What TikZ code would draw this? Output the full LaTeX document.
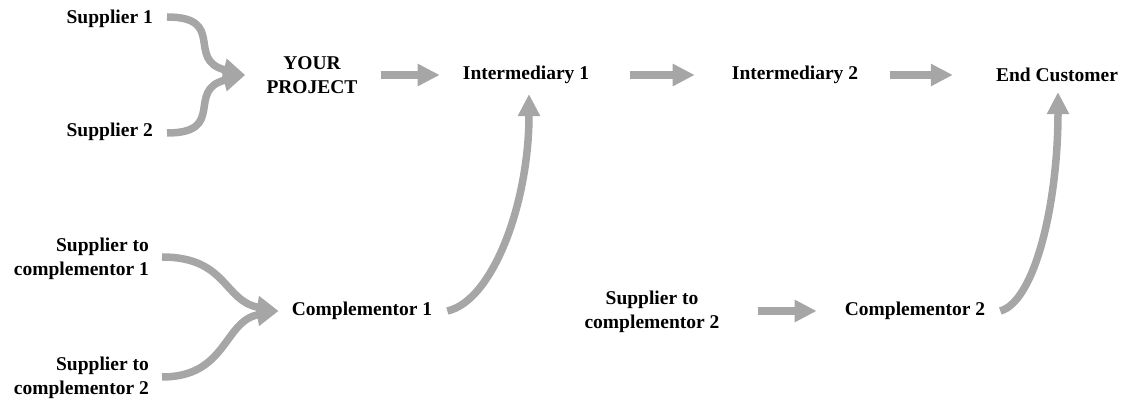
\documentclass[tikz,border=0pt]{standalone}
\usepackage{fontspec}
\setmainfont{Liberation Serif}
\usetikzlibrary{arrows.meta}
\definecolor{flowgrey}{HTML}{A6A6A6}
\tikzset{
  lbl/.style={font=\bfseries\fontsize{19.5}{24}\selectfont, inner sep=0pt, text=black},
  flow/.style={draw=flowgrey, line width=7.5pt, -{Triangle[length=22pt,width=21pt]}},
}
\begin{document}
\begin{tikzpicture}[x=1pt,y=1pt]
\useasboundingbox (0,0) rectangle (1130,401);
% labels
\node[lbl, anchor=east] (s1) at (153,382) {Supplier 1};
\node[lbl, anchor=east] (s2) at (153,269) {Supplier 2};
\node[lbl, align=center] (yp) at (312,326) {YOUR\\PROJECT};
\node[lbl] (i1) at (526,326) {Intermediary 1};
\node[lbl] (i2) at (795,326) {Intermediary 2};
\node[lbl] (ec) at (1057,326) {End Customer};
\node[lbl, anchor=east, align=right] (sc1) at (149,142) {Supplier to\\complementor 1};
\node[lbl, anchor=east, align=right] (sc2) at (149,23) {Supplier to\\complementor 2};
\node[lbl] (c1) at (362,90) {Complementor 1};
\node[lbl, align=center] (sc3) at (652,89) {Supplier to\\complementor 2};
\node[lbl] (c2) at (915,90) {Complementor 2};
% suppliers merging into the project
\draw[flow] ([xshift=14pt,yshift=2pt]s1.east) .. controls +(60,0) and +(-60,15) .. ([xshift=-21pt]yp.west);
\draw[flow] ([xshift=14pt,yshift=-1pt]s2.east) .. controls +(60,0) and +(-60,-15) .. ([xshift=-21pt]yp.west);
% main chain
\draw[flow] ([xshift=23pt]yp.east) -- ([xshift=-23pt]yp.east -| i1.west);
\draw[flow] ([xshift=41pt]i1.east) -- ([xshift=-37pt]i1.east -| i2.west);
\draw[flow] ([xshift=32pt]i2.east) -- ([xshift=-43pt]i2.east -| ec.west);
% complementor suppliers
\draw[flow] ([xshift=13pt,yshift=2pt]sc1.east) .. controls +(65,0) and +(-55,10) .. ([xshift=-13pt]c1.west);
\draw[flow] ([xshift=13pt,yshift=1pt]sc2.east) .. controls +(65,0) and +(-55,-10) .. ([xshift=-13pt]c1.west);
\draw[flow] ([xshift=38pt]sc3.east |- c2.west) -- ([xshift=-28pt]c2.west);
% complementors feeding the chain
\draw[flow] ([xshift=15pt]c1.east) .. controls +(45,10) and +(0,-110) .. ([xshift=3pt,yshift=-10pt]i1.south);
\draw[flow] ([xshift=15pt]c2.east) .. controls +(35,10) and +(0,-110) .. ([xshift=1pt,yshift=-10pt]ec.south);
\end{tikzpicture}
\end{document}
